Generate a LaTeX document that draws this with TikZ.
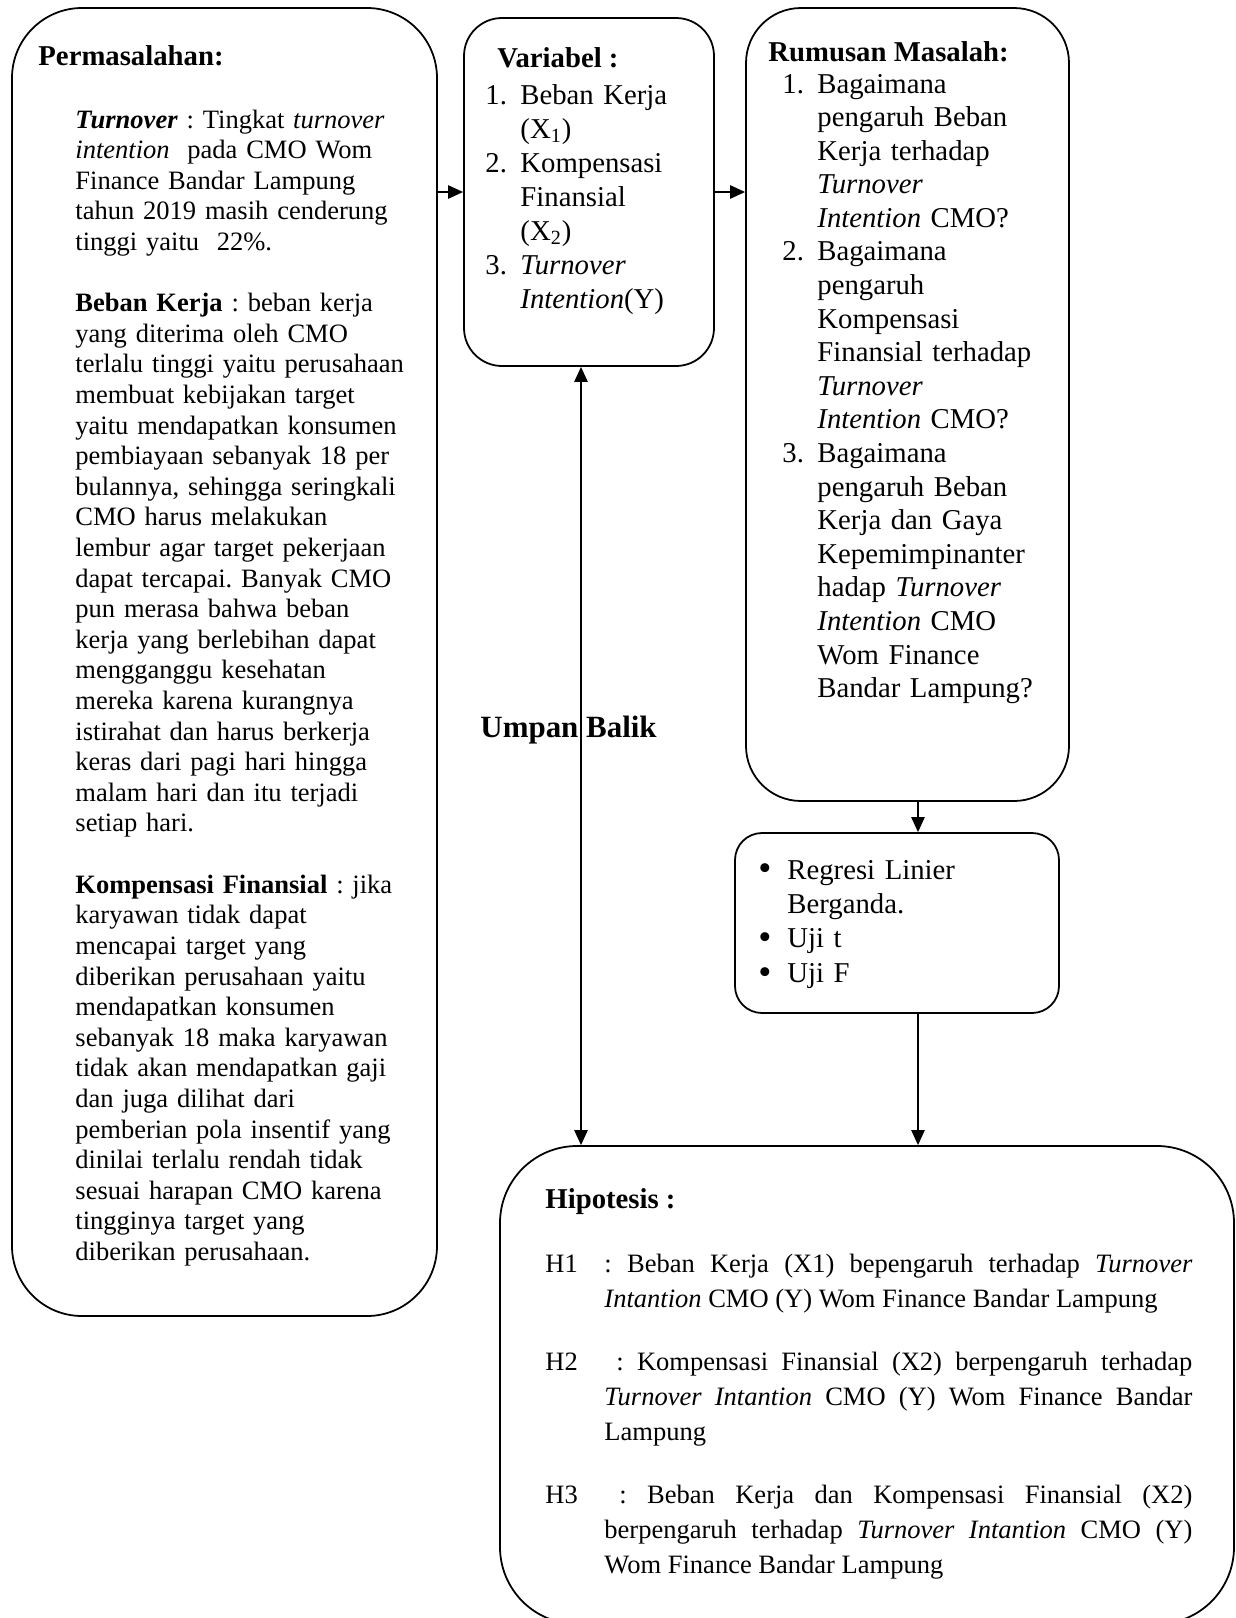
\documentclass[tikz,border=0pt]{standalone}
\usepackage{fontspec}
\setmainfont{Liberation Serif}
\usepackage{graphicx}
\usepackage{tikz}
\usetikzlibrary{arrows.meta}
\newdimen\px
\px=0.4525pt
\frenchspacing

\begin{document}
\begin{tikzpicture}[x=0.4525pt,y=-0.4525pt]
\tikzset{box/.style={shape=rectangle, draw=black, line width=0.8pt, inner sep=0pt}}
\tikzset{txt/.style={inner sep=0pt, anchor=base west}}
\tikzset{judul/.style={txt, font=\fontsize{13}{15}\selectfont\bfseries}}
\tikzset{>={Triangle[length=6.8pt,width=6pt]}}
\tikzset{flow/.style={->, line width=0.8pt}}
\useasboundingbox (0,0) rectangle (1236,1618);

\node[box, minimum width=425\px, minimum height=1308\px, rounded corners=70\px] (masalah) at (224.5,662) {};
\node[box, minimum width=250\px, minimum height=348\px, rounded corners=38\px] (variabel) at (589,192) {};
\node[box, minimum width=323\px, minimum height=793\px, rounded corners=55\px] (rumusan) at (907.5,404.5) {};
\node[box, minimum width=324\px, minimum height=180\px, rounded corners=27\px] (metode) at (897,923) {};
\node[box, minimum width=734\px, minimum height=478\px, rounded corners=77\px] (hipotesis) at (867,1385) {};

\node[judul] (masalahjudul) at (38,65) {Permasalahan:};
\node[txt, text width=360\px, align=left, font=\fontsize{12}{13.85}\selectfont] (masalahisi) at (75,128) {%
\textbf{\textit{Turnover}} : Tingkat \textit{turnover}\\
\textit{intention}\ \ pada CMO Wom\\
Finance Bandar Lampung\\
tahun 2019 masih cenderung\\
tinggi yaitu\ \ 22\%.\\[13.85pt]
\textbf{Beban Kerja} : beban kerja\\
yang diterima oleh CMO\\
terlalu tinggi yaitu perusahaan\\
membuat kebijakan target\\
yaitu mendapatkan konsumen\\
pembiayaan sebanyak 18 per\\
bulannya, sehingga seringkali\\
CMO harus melakukan\\
lembur agar target pekerjaan\\
dapat tercapai. Banyak CMO\\
pun merasa bahwa beban\\
kerja yang berlebihan dapat\\
mengganggu kesehatan\\
mereka karena kurangnya\\
istirahat dan harus berkerja\\
keras dari pagi hari hingga\\
malam hari dan itu terjadi\\
setiap hari.\\[13.85pt]
\textbf{Kompensasi Finansial} : jika\\
karyawan tidak dapat\\
mencapai target yang\\
diberikan perusahaan yaitu\\
mendapatkan konsumen\\
sebanyak 18 maka karyawan\\
tidak akan mendapatkan gaji\\
dan juga dilihat dari\\
pemberian pola insentif yang\\
dinilai terlalu rendah tidak\\
sesuai harapan CMO karena\\
tingginya target yang\\
diberikan perusahaan.};

\node[judul] (variabeljudul) at (497,67) {Variabel :};
\node[txt, text width=225\px, align=left, font=\fontsize{13}{15.4}\selectfont] (variabelisi) at (485,104) {%
\makebox[35\px][l]{1.}Beban Kerja\\
\hspace*{35\px}(X\textsubscript{1})\\
\makebox[35\px][l]{2.}Kompensasi\\
\hspace*{35\px}Finansial\\
\hspace*{35\px}(X\textsubscript{2})\\
\makebox[35\px][l]{3.}\textit{Turnover}\\
\hspace*{35\px}\textit{Intention}(Y)};

\node[judul] (rumusanjudul) at (768,61) {Rumusan Masalah:};
\node[txt, text width=282\px, align=left, font=\fontsize{13}{15.2}\selectfont] (rumusanisi) at (782,93) {%
\makebox[35\px][l]{1.}Bagaimana\\
\hspace*{35\px}pengaruh Beban\\
\hspace*{35\px}Kerja terhadap\\
\hspace*{35\px}\textit{Turnover}\\
\hspace*{35\px}\textit{Intention} CMO?\\
\makebox[35\px][l]{2.}Bagaimana\\
\hspace*{35\px}pengaruh\\
\hspace*{35\px}Kompensasi\\
\hspace*{35\px}Finansial terhadap\\
\hspace*{35\px}\textit{Turnover}\\
\hspace*{35\px}\textit{Intention} CMO?\\
\makebox[35\px][l]{3.}Bagaimana\\
\hspace*{35\px}pengaruh Beban\\
\hspace*{35\px}Kerja dan Gaya\\
\hspace*{35\px}Kepemimpinanter\\
\hspace*{35\px}hadap \textit{Turnover}\\
\hspace*{35\px}\textit{Intention} CMO\\
\hspace*{35\px}Wom Finance\\
\hspace*{35\px}Bandar Lampung?};

\newcommand\butir{\makebox[29\px][l]{\raisebox{-0.06em}{\scalebox{1.3}{\textbullet}}}}
\node[txt, text width=290\px, align=left, font=\fontsize{13}{15.6}\selectfont] (metodeisi) at (758,879) {%
\butir Regresi Linier\\
\hspace*{29\px}Berganda.\\
\butir Uji t\\
\butir Uji F};

\node[judul] (hipotesisjudul) at (545,1208) {Hipotesis :};
\node[txt, font=\fontsize{12}{15.84}\selectfont] (h1) at (545,1272) {H1};
\node[txt, font=\fontsize{12}{15.84}\selectfont] (h2) at (545,1370) {H2};
\node[txt, font=\fontsize{12}{15.84}\selectfont] (h3) at (545,1503) {H3};
\node[txt, text width=588\px, align=justify, font=\fontsize{12}{15.84}\selectfont] (h1isi) at (604,1272) {%
\hangindent=14\px\hangafter=1 : Beban Kerja (X1) bepengaruh terhadap \textit{Turnover}\linebreak
\textit{Intantion} CMO (Y) Wom Finance Bandar Lampung};
\node[txt, text width=588\px, align=justify, font=\fontsize{12}{15.84}\selectfont] (h2isi) at (604,1370) {%
\hangindent=14\px\hangafter=1 \hspace*{12\px}: Kompensasi Finansial (X2) berpengaruh terhadap\linebreak
\textit{Turnover Intantion} CMO (Y) Wom Finance Bandar\linebreak
Lampung};
\node[txt, text width=588\px, align=justify, font=\fontsize{12}{15.84}\selectfont] (h3isi) at (604,1503) {%
\hangindent=14\px\hangafter=1 \hspace*{15\px}: Beban Kerja dan Kompensasi Finansial (X2)\linebreak
berpengaruh terhadap \textit{Turnover Intantion} CMO (Y)\linebreak
Wom Finance Bandar Lampung};

\node[txt, font=\fontsize{14}{16}\selectfont\bfseries] (umpan) at (480,737) {Umpan Balik};

\coordinate (balik) at (581,0);
\coordinate (uji) at (918,0);
\draw[flow] (masalah.east |- variabel.west) -- (variabel.west);
\draw[flow] (variabel.east) -- (rumusan.west |- variabel.east);
\draw[flow] (rumusan.south -| uji) -- (metode.north -| uji);
\draw[flow] (metode.south -| uji) -- (hipotesis.north -| uji);
\draw[flow, <->] (variabel.south -| balik) -- (hipotesis.north -| balik);
\end{tikzpicture}
\end{document}
